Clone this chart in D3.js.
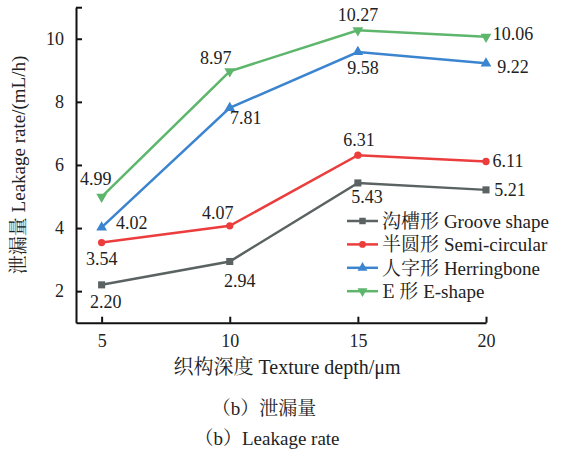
<!DOCTYPE html>
<html>
<head>
<meta charset="utf-8">
<script src="https://cdn.jsdelivr.net/npm/d3@7"></script>
<style>
  @font-face { font-family: 'RefSerif'; src: local('Liberation Serif'), local('LiberationSerif'), local('Times New Roman'); }
  @font-face { font-family: 'RefSong'; src: local('Noto Serif CJK SC'), local('NotoSerifCJKsc-Regular'); }
</style>
</head>
<body style="margin:0; background:#fff">
<div id="chart"></div>
<script>
// data
const depths = [5, 10, 15, 20];
const seriesCn = ['沟槽形', '半圆形', '人字形', 'E 形'];
const seriesEn = ['Groove shape', 'Semi-circular', 'Herringbone', 'E-shape'];
const grooveValues = [2.20, 2.94, 5.43, 5.21];
const semiValues = [3.54, 4.07, 6.31, 6.11];
const herringValues = [4.02, 7.81, 9.58, 9.22];
const eShapeValues = [4.99, 8.97, 10.27, 10.06];
const yTicks = [2, 4, 6, 8, 10];
const xTicks = [5, 10, 15, 20];

// styling / label placement (offsets from each point, px)
const colors = ['#5b6262', '#ec3d3d', '#3b84cf', '#5db66c'];
const symbols = [d3.symbolSquare, d3.symbolCircle, d3.symbolTriangle, d3.symbolTriangle];
const labelOffsets = [
    [[4, 17], [10, 20], [9, 14], [24, 0]],
    [[0, 16], [-12, -13], [1, -15], [22, 0]],
    [[30, -4], [16, 10], [5, 16], [27, 4]],
    [[-6, -18], [-14, -13], [0, -15], [27, -3]]
];
const latinFont = "'Liberation Serif', RefSerif, 'Times New Roman'";
const cjkFont = "'Noto Serif CJK SC', RefSong";

const width = 561;
const height = 453;

const svg = d3.select('#chart')
    .append('svg')
    .attr('width', width)
    .attr('height', height);

const x = d3.scaleLinear().domain([4, 20]).range([76, 486]);
const y = d3.scaleLinear().domain([1, 11]).range([322.7, 7.2]);

const allSeries = [grooveValues, semiValues, herringValues, eShapeValues];

// set the font both ways, attribute and inline style
function setFont(sel, fam, size) {
    sel.attr('font-family', fam).style('font-family', fam);
    if (size) sel.attr('font-size', size).style('font-size', size + 'px');
    return sel;
}

// mixed-script text: one tspan per font
function mixedText(sel, parts, size) {
    setFont(sel, latinFont, size).attr('fill', '#222');
    parts.forEach(p => {
        setFont(sel.append('tspan'), p[1] ? cjkFont : latinFont).text(p[0]);
    });
    return sel;
}

// axes
const xAxis = svg.append('g')
    .attr('transform', `translate(0,${y(1)})`)
    .call(d3.axisBottom(x).tickValues(xTicks).tickSizeInner(-6).tickSizeOuter(0).tickPadding(12));
const yAxis = svg.append('g')
    .attr('transform', `translate(${x(4)},0)`)
    .call(d3.axisLeft(y).tickValues(yTicks.concat([11])).tickFormat(d => d === 11 ? '' : d)
        .tickSizeInner(-6).tickSizeOuter(0).tickPadding(12));

[xAxis, yAxis].forEach(ax => {
    setFont(ax, latinFont, 18);
    ax.select('.domain').attr('stroke', '#111').attr('stroke-width', 2);
    ax.selectAll('.tick line').attr('stroke', '#111').attr('stroke-width', 2);
    setFont(ax.selectAll('.tick text'), latinFont, 18).attr('fill', '#222');
});

// lines, markers and value labels
const line = d3.line()
    .x((d, i) => x(depths[i]))
    .y(d => y(d));

allSeries.forEach((vals, s) => {
    svg.append('path')
        .datum(vals)
        .attr('fill', 'none')
        .attr('stroke', colors[s])
        .attr('stroke-width', 2.5)
        .attr('d', line);

    svg.selectAll(null)
        .data(vals)
        .enter()
        .append('path')
        .attr('d', d3.symbol().type(symbols[s]).size(s === 1 ? 42 : 50))
        .attr('transform', (d, i) => `translate(${x(depths[i])},${y(d)})${s === 3 ? ' rotate(180)' : ''}`)
        .attr('fill', colors[s]);

    const labels = svg.selectAll(null)
        .data(vals)
        .enter()
        .append('text')
        .attr('x', (d, i) => x(depths[i]) + labelOffsets[s][i][0])
        .attr('y', (d, i) => y(d) + labelOffsets[s][i][1] + 6)
        .attr('text-anchor', 'middle')
        .attr('fill', '#222')
        .text(d => d.toFixed(2));
    setFont(labels, latinFont, 18);
});

// legend
const legend = svg.append('g');
seriesEn.forEach((name, s) => {
    const ly = 221 + s * 23.4;
    legend.append('line')
        .attr('x1', 347).attr('x2', 378)
        .attr('y1', ly).attr('y2', ly)
        .attr('stroke', colors[s])
        .attr('stroke-width', 2.5);
    legend.append('path')
        .attr('d', d3.symbol().type(symbols[s]).size(s === 1 ? 36 : 42))
        .attr('transform', `translate(362.5,${ly})${s === 3 ? ' rotate(180)' : ''}`)
        .attr('fill', colors[s]);
    const t = legend.append('text')
        .attr('x', 382)
        .attr('y', ly + 7);
    mixedText(t, [[seriesCn[s] + ' ', true], [name, false]], 19);
});

// axis titles
mixedText(svg.append('text')
    .attr('x', 287)
    .attr('y', 374)
    .attr('text-anchor', 'middle'),
    [['织构深度 ', true], ['Texture depth/μm', false]], 20);

mixedText(svg.append('text')
    .attr('transform', 'translate(25,165) rotate(-90)')
    .attr('text-anchor', 'middle'),
    [['泄漏量 ', true], ['Leakage rate/(mL/h)', false]], 19);

// captions
mixedText(svg.append('text')
    .attr('x', 264)
    .attr('y', 415)
    .attr('text-anchor', 'middle'),
    [['（', true], ['b', false], ['）泄漏量', true]], 19);

mixedText(svg.append('text')
    .attr('x', 267)
    .attr('y', 445)
    .attr('text-anchor', 'middle'),
    [['（', true], ['b', false], ['）', true], ['Leakage rate', false]], 19);
</script>
</body>
</html>
